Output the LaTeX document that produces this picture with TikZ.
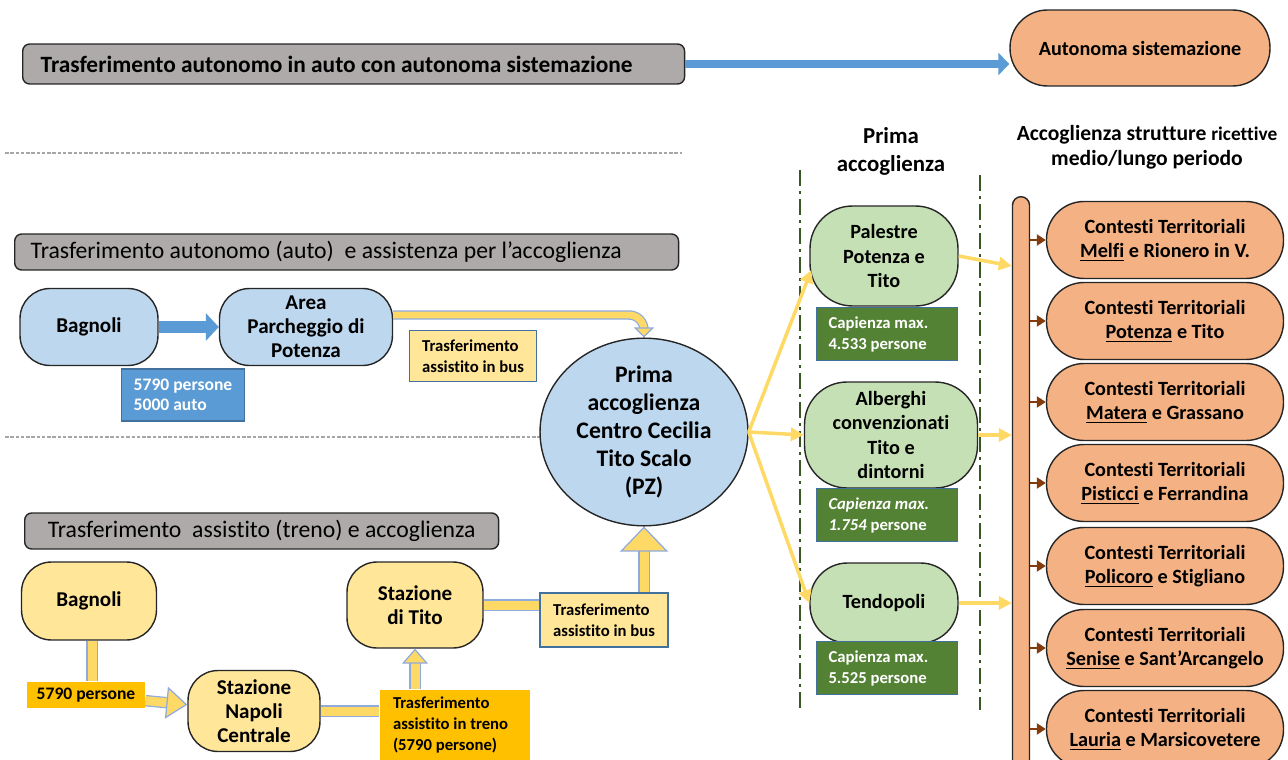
\documentclass[tikz,border=0pt]{standalone}
\usepackage{fontspec}
\setmainfont{Carlito}[Ligatures=NoCommon]
\usepackage{xcolor}
\usetikzlibrary{positioning,calc,shapes.geometric,arrows.meta}

\definecolor{titlegray}{HTML}{AEAAAA}
\definecolor{lightblue}{HTML}{BDD7EE}
\definecolor{midblue}{HTML}{5B9BD5}
\definecolor{edgeblue}{HTML}{41719C}
\definecolor{lightorange}{HTML}{F4B183}
\definecolor{lightyellow}{HTML}{FFE699}
\definecolor{arrowyellow}{HTML}{FFD966}
\definecolor{darkyellow}{HTML}{FFC000}
\definecolor{lightgreen}{HTML}{C5E0B4}
\definecolor{darkgreen}{HTML}{548235}
\definecolor{linegreen}{HTML}{385723}
\definecolor{yedge}{HTML}{8FAADC}
\definecolor{brownarrow}{HTML}{843C0C}

\begin{document}
\begin{tikzpicture}[
	x=0.02cm, y=-0.02cm,
	titlebox/.style={
		draw=black!85, fill=titlegray, rounded corners=4pt, line width=0.8pt,
		anchor=west, align=flush left, inner ysep=0pt,
		font=\fontsize{13.5}{16}\selectfont
	},
	bluenode/.style={
		draw=black!85, fill=lightblue, line width=0.8pt, rounded corners=0.6cm,
		align=center, inner sep=0pt,
		font=\fontsize{12}{13.7}\selectfont\bfseries
	},
	yellownode/.style={bluenode, fill=lightyellow},
	greennode/.style={bluenode, fill=lightgreen, rounded corners=0.85cm,
		font=\fontsize{11.5}{13.7}\selectfont\bfseries},
	orangenode/.style={bluenode, fill=lightorange, rounded corners=0.75cm,
		minimum width=4.74cm, minimum height=1.54cm,
		font=\fontsize{11.5}{13.7}\selectfont\bfseries},
	infobox/.style={
		draw=edgeblue, line width=0.6pt, align=left, inner sep=0pt,
		font=\fontsize{9.5}{12}\selectfont\bfseries
	},
	capbox/.style={infobox, fill=darkgreen, text=white, align=flush left, inner xsep=0.24cm,
		minimum height=1.07cm, text width=2.34cm},
	header/.style={align=center, font=\fontsize{13}{16}\selectfont\bfseries},
	bluearrow/.style={midblue, line width=0.16cm, -{Triangle[length=0.22cm, width=0.44cm]}},
	hollow/.style={draw=yedge, line width=0.7pt, double=arrowyellow, double distance=0.18cm},
	htip/.style 2 args={-{Triangle[length=#1, width=#2, fill=arrowyellow, color=yedge, line width=0.7pt]}},
	yline/.style={arrowyellow, line width=2pt, -{Triangle[length=0.26cm, width=0.26cm]}},
	brownarr/.style={brownarrow, line width=1.6pt, -{Triangle[length=0.18cm, width=0.22cm]}},
	sepline/.style={gray!70, line width=0.6pt, dash pattern=on 2pt off 1pt},
	gline/.style={linegreen, line width=1.6pt, dash pattern=on 9pt off 3pt on 1.5pt off 3pt}
	]
	
	\path[use as bounding box, clip] (0,0) rectangle (1288,760);
	
	% --- autonoma sistemazione ---
	\node[titlebox, font=\fontsize{13.3}{16}\selectfont\bfseries, minimum height=0.8cm,
		text width=12.52cm, inner xsep=0.36cm] (title1) at (22,64)
		{Trasferimento autonomo in auto con autonoma sistemazione};
	\node[orangenode, minimum width=5.2cm, minimum height=1.52cm] (auto) at (1140,48) {Autonoma sistemazione};
	\draw[bluearrow] (title1.east) -- (title1.east -| auto.west);
	
	\draw[sepline] (5,153) -- (682,153);
	
	% --- auto e assistenza ---
	\node[titlebox, minimum height=0.72cm, text width=12.64cm, inner xsep=0.32cm] (title2) at (14,252)
		{Trasferimento autonomo (auto)\ \ e assistenza per l’accoglienza};
	\node[bluenode, minimum width=2.76cm, minimum height=1.54cm] (bagnoli1) at (89,327) {Bagnoli};
	\node[bluenode, minimum width=3.46cm, minimum height=1.54cm] (area) at (306,327) {Area\\Parcheggio di\\Potenza};
	\draw[bluearrow, line width=0.24cm, -{Triangle[length=0.26cm, width=0.54cm]}] (bagnoli1) -- (area);
	\node[infobox, fill=midblue, text=white, font=\fontsize{10}{11.4}\selectfont\bfseries,
		minimum height=1.04cm, minimum width=2.46cm] (auto5790) at (183,395) {5790 persone\\5000 auto};
	\node[infobox, fill=lightyellow, minimum height=1.02cm, minimum width=2.54cm] (bus1) at (473,356)
		{Trasferimento\\assistito in bus};
	
	\draw[sepline] (5,437) -- (545,437);
	
	% --- prima accoglienza ---
	\node[ellipse, draw=black!85, fill=lightblue, line width=0.8pt, inner sep=0pt,
		minimum width=4.16cm, minimum height=3.44cm, align=center,
		font=\fontsize{13.5}{16}\selectfont\bfseries] (centro) at (644,432)
		{Prima\\accoglienza\\Centro Cecilia\\Tito Scalo\\(PZ)};
	\draw[hollow, double distance=0.14cm, rounded corners=0.3cm, htip={0.2cm}{0.4cm}]
		($(area.east)+(0,-12)$) -| (centro.north);
	
	% --- treno e accoglienza ---
	\node[titlebox, align=center, minimum height=0.72cm, minimum width=9.48cm] (title3) at (24,531)
		{Trasferimento\ \ assistito (treno) e accoglienza};
	\node[yellownode, minimum width=2.7cm, minimum height=1.56cm] (bagnoli2) at (89,601) {Bagnoli};
	\node[infobox, draw=none, fill=darkyellow, minimum height=0.52cm, minimum width=2.36cm,
		font=\fontsize{10}{12}\selectfont\bfseries] (treno5790) at (86,695) {5790 persone};
	\node[yellownode, minimum width=2.64cm, minimum height=1.62cm] (napoli) at (254,711) {Stazione\\Napoli\\Centrale};
	\node[yellownode, minimum width=2.72cm, minimum height=1.72cm] (tito) at (415,605) {Stazione\\di Tito};
	\node[infobox, draw=none, fill=darkyellow, align=flush left, minimum height=1.4cm, text width=2.48cm,
		inner xsep=0.26cm] (treno) at (455,725) {Trasferimento\\assistito in treno\\(5790 persone)};
	\node[infobox, fill=lightyellow, minimum height=1.08cm, minimum width=2.56cm] (bus2) at (604,620)
		{Trasferimento\\assistito in bus};
	
	\draw[hollow] (bagnoli2.south -| 92,0) -- (treno5790.north -| 92,0);
	\draw[hollow, htip={0.42cm}{0.64cm}] (treno5790) -- (napoli);
	\draw[hollow] (napoli.east) -- (napoli.east -| treno.west);
	\draw[hollow, htip={0.3cm}{0.52cm}] (tito.south |- treno.north) -- (tito.south);
	\draw[hollow] (tito.east) -- (tito.east -| bus2.west);
	\draw[hollow, htip={0.5cm}{0.96cm}] (centro.south |- bus2.north) -- (centro.south);
	
	% --- colonne ---
	\draw[gline] (800,170) -- (800,708);
	\draw[gline] (980,175) -- (980,710);
	\node[header] (hprima) at (891,151) {Prima\\accoglienza};
	\node[header, font=\fontsize{12.3}{14.5}\selectfont\bfseries] (hstrutture) at (1147,147)
		{Accoglienza strutture {\fontsize{11}{14}\selectfont ricettive}\\medio/lungo periodo};
	
	\node[greennode, minimum width=2.96cm, minimum height=2.0cm] (palestre) at (884,256) {Palestre\\Potenza e\\Tito};
	\node[capbox] (cap1) at (887,334) {Capienza max.\\4.533 persone};
	\node[greennode, minimum width=3.46cm, minimum height=2.12cm] (alberghi) at (891,435)
		{Alberghi\\convenzionati\\Tito e\\dintorni};
	\node[capbox] (cap2) at (887,515) {\textit{Capienza max.}\\\textit{1.754} persone};
	\node[greennode, minimum width=2.96cm, minimum height=1.6cm, rounded corners=0.75cm] (tendopoli) at (884,603) {Tendopoli};
	\node[capbox] (cap3) at (887,668) {Capienza max.\\5.525 persone};
	
	\draw[yline] (centro.east) -- ($(palestre.west)+(2,14)$);
	\draw[yline] (centro.east) -- (alberghi.west);
	\draw[yline] (centro.east) -- (tendopoli.west);
	
	% --- strutture ricettive ---
	\node[draw=black!85, fill=lightorange, line width=0.8pt, rounded corners=0.17cm,
		minimum width=0.34cm, minimum height=11.6cm, inner sep=0pt] (bar) at (1021,196) [anchor=north] {};
	
	\draw[yline] (palestre.east) -- ($(bar.west |- palestre.east)+(0,10)$);
	\draw[yline] (alberghi.east) -- (bar.west |- alberghi.east);
	\draw[yline] (tendopoli.east) -- (bar.west |- tendopoli.east);
	
	\node[orangenode] (melfi) at (1165,240) {Contesti Territoriali\\\underline{Melfi} e Rionero in V.};
	\node[orangenode] (potenza) at (1165,321) {Contesti Territoriali\\\underline{Potenza} e Tito};
	\node[orangenode] (matera) at (1165,402) {Contesti Territoriali\\\underline{Matera} e Grassano};
	\node[orangenode] (pisticci) at (1165,483) {Contesti Territoriali\\\underline{Pisticci} e Ferrandina};
	\node[orangenode] (policoro) at (1165,566) {Contesti Territoriali\\\underline{Policoro} e Stigliano};
	\node[orangenode] (senise) at (1165,648) {Contesti Territoriali\\\underline{Senise} e Sant’Arcangelo};
	\node[orangenode] (lauria) at (1165,729) {Contesti Territoriali\\\underline{Lauria} e Marsicovetere};
	
	\foreach \n in {melfi,potenza,matera,pisticci,policoro,senise,lauria}
		\draw[brownarr] (bar.east |- \n.west) -- (\n.west);
	
\end{tikzpicture}
\end{document}
